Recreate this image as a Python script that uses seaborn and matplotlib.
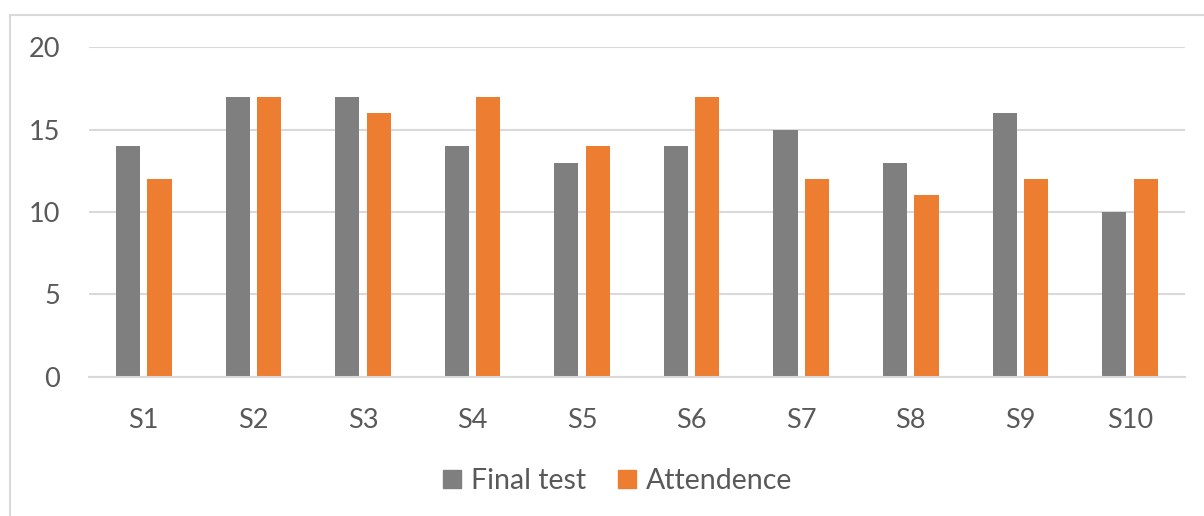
import matplotlib
matplotlib.use("Agg")
import matplotlib.pyplot as plt
from matplotlib.patches import Rectangle
import seaborn as sns
import pandas as pd

students = ["S1", "S2", "S3", "S4", "S5", "S6", "S7", "S8", "S9", "S10"]
final_test = [14, 17, 17, 14, 13, 14, 15, 13, 16, 10]
attendence = [12, 17, 16, 17, 14, 17, 12, 11, 12, 12]
series_names = ["Final test", "Attendence"]
y_ticks = [0, 5, 10, 15, 20]

df = pd.DataFrame({
    "student": students * 2,
    "series": [series_names[0]] * len(students) + [series_names[1]] * len(students),
    "value": final_test + attendence,
})

sns.set_theme(style="white")
plt.rcParams["font.family"] = ["Lato", "DejaVu Sans"]

text_color = "#595959"
grid_color = "#d9d9d9"
palette = {"Final test": "#7f7f7f", "Attendence": "#ed7d31"}

fig = plt.figure(figsize=(12.04, 5.16), dpi=100)
ax = fig.add_axes([0.0739, 0.2694, 0.9101, 0.6395])

sns.barplot(data=df, x="student", y="value", hue="series", order=students,
            hue_order=series_names, palette=palette, width=0.573, gap=0.23,
            saturation=1, linewidth=0, ax=ax, legend=False)

ax.set_ylim(0, 20)
ax.set_xlim(-0.5, len(students) - 0.5)
ax.set_yticks(y_ticks)
ax.set_xlabel("")
ax.set_ylabel("")
ax.yaxis.grid(True, color=grid_color, linewidth=1.5)
ax.set_axisbelow(True)
for side in ["top", "right", "left"]:
    ax.spines[side].set_visible(False)
ax.spines["bottom"].set_color(grid_color)
ax.spines["bottom"].set_linewidth(1.5)
ax.tick_params(axis="both", length=0, labelsize=19.5, colors=text_color)
ax.tick_params(axis="y", pad=21)
ax.tick_params(axis="x", pad=22)

# legend with square markers below the plot
handles = [Rectangle((0, 0), 1, 1, color=palette[n]) for n in series_names]
fig.legend(handles, series_names, loc="center", bbox_to_anchor=(0.513, 1 - 481 / 516),
           ncol=2, frameon=False, fontsize=20.5, labelcolor=text_color,
           handlelength=0.63, handleheight=0.63, handletextpad=0.32, columnspacing=1.15)

# chart-area border
fig.patches.append(Rectangle((10 / 1204, -0.1), 1.2, 1 - 15 / 516 + 0.1,
                             transform=fig.transFigure, fill=False,
                             edgecolor=grid_color, linewidth=1.5, zorder=0))

fig.savefig("out.png", dpi=100)
